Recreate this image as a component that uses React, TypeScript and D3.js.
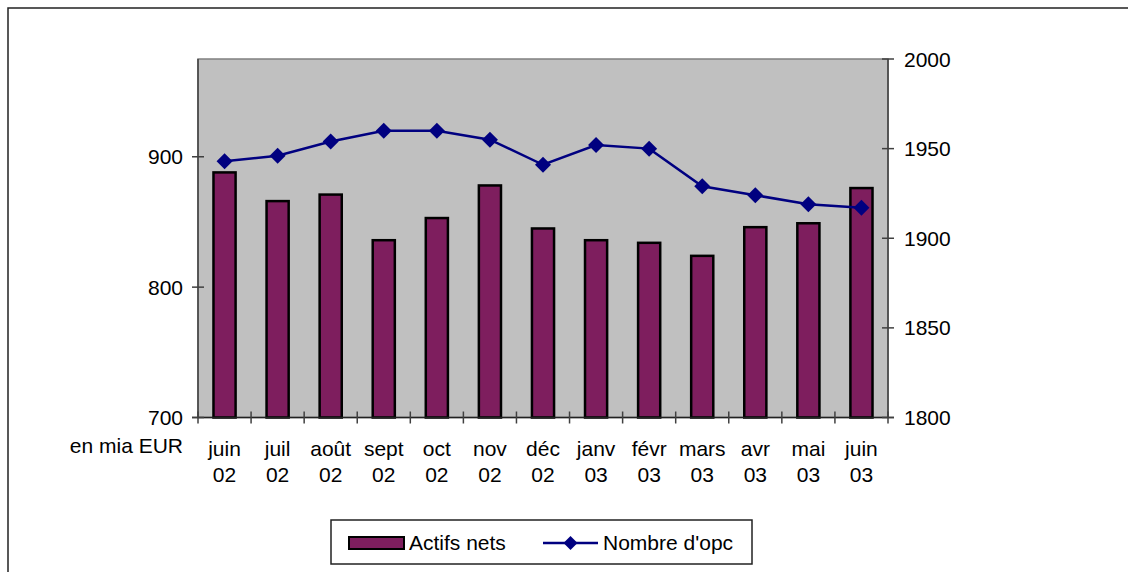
import React from "react";
import * as d3 from "d3";

const categories = ["juin 02", "juil 02", "août 02", "sept 02", "oct 02", "nov 02", "déc 02", "janv 03", "févr 03", "mars 03", "avr 03", "mai 03", "juin 03"];
const actifsNets = [888, 866, 871, 836, 853, 878, 845, 836, 834, 824, 846, 849, 876];
const nombreOpc = [1943, 1946, 1954, 1960, 1960, 1955, 1941, 1952, 1950, 1929, 1924, 1919, 1917];
const leftTicks = [700, 800, 900];
const rightTicks = [1800, 1850, 1900, 1950, 2000];
const leftDomain = [700, 975];
const rightDomain = [1800, 2000];
const unitLabel = "en mia EUR";
const seriesNames = ["Actifs nets", "Nombre d'opc"];

const W = 1128, H = 572;
const PL = 198, PR = 888, PT = 59, PB = 417.5;
const FONT = "'Liberation Sans', Arial, sans-serif";
const FS = 21;
const BAR = "#7e1e5e";
const LINE = "#000080";

export default function App() {
  const x = d3.scaleBand().domain(categories).range([PL, PR]).paddingInner(0).paddingOuter(0);
  const bw = x.bandwidth() / 2.4;
  const yL = d3.scaleLinear().domain(leftDomain).range([PB, PT]);
  const yR = d3.scaleLinear().domain(rightDomain).range([PB, PT]);
  const cx = (c: string) => (x(c) as number) + x.bandwidth() / 2;
  const line = d3.line<number>().x((_, i) => cx(categories[i])).y((d) => yR(d));
  const diamond = (px: number, py: number, r: number) =>
    `M${px},${py - r}L${px + r},${py}L${px},${py + r}L${px - r},${py}Z`;
  const boundaries = d3.range(categories.length + 1).map((i) => PL + i * x.bandwidth());

  return (
    <svg width={W} height={H} style={{ position: "absolute", left: 0, top: 0, background: "#fff" }} fontFamily={FONT}>
      <rect x={8} y={8} width={W + 10} height={H + 10} fill="#fff" stroke="#222" strokeWidth={1.5} />
      <rect x={PL} y={PT} width={PR - PL} height={PB - PT} fill="#c0c0c0" stroke="#808080" strokeWidth={1.5} />
      {categories.map((c, i) => (
        <rect key={c} x={cx(c) - bw / 2} y={yL(actifsNets[i])} width={bw} height={PB - yL(actifsNets[i])}
          fill={BAR} stroke="#000" strokeWidth={2.5} />
      ))}
      {/* axes */}
      <line x1={PL} y1={PT} x2={PL} y2={PB} stroke="#404040" strokeWidth={1.5} />
      <line x1={PR} y1={PT} x2={PR} y2={PB} stroke="#404040" strokeWidth={1.5} />
      <line x1={PL - 6} y1={PB} x2={PR + 6} y2={PB} stroke="#222" strokeWidth={1.5} />
      {leftTicks.map((t) => (
        <g key={t}>
          <line x1={PL - 6} x2={PL + 6} y1={yL(t)} y2={yL(t)} stroke="#404040" strokeWidth={1.5} />
          <text x={183} y={yL(t)} dy="0.36em" textAnchor="end" fontSize={FS} fill="#000">{t}</text>
        </g>
      ))}
      {rightTicks.map((t) => (
        <g key={t}>
          <line x1={PR - 6} x2={PR + 6} y1={yR(t)} y2={yR(t)} stroke="#404040" strokeWidth={1.5} />
          <text x={904} y={yR(t)} dy="0.36em" textAnchor="start" fontSize={FS} fill="#000">{t}</text>
        </g>
      ))}
      {boundaries.map((bx, i) => (
        <line key={i} x1={bx} x2={bx} y1={PB - 6} y2={PB + 6} stroke="#404040" strokeWidth={1.5} />
      ))}
      {categories.map((c) => {
        const [a, b] = c.split(" ");
        return (
          <text key={c} x={cx(c)} y={456} textAnchor="middle" fontSize={FS} fill="#000">
            <tspan x={cx(c)}>{a}</tspan>
            <tspan x={cx(c)} dy={26}>{b}</tspan>
          </text>
        );
      })}
      <text x={183} y={453} textAnchor="end" fontSize={FS} fill="#000">{unitLabel}</text>
      {/* line series */}
      <path d={line(nombreOpc) as string} fill="none" stroke={LINE} strokeWidth={2.5} />
      {nombreOpc.map((v, i) => (
        <path key={i} d={diamond(cx(categories[i]), yR(v), 8)} fill={LINE} />
      ))}
      {/* legend */}
      <rect x={331} y={520} width={421} height={44} fill="#fff" stroke="#222" strokeWidth={1.5} />
      <rect x={349} y={537} width={55} height={12} fill={BAR} stroke="#000" strokeWidth={2} />
      <text x={409} y={549.5} fontSize={FS} fill="#000">{seriesNames[0]}</text>
      <line x1={543} x2={598} y1={543} y2={543} stroke={LINE} strokeWidth={2.5} />
      <path d={diamond(570.5, 543, 7)} fill={LINE} />
      <text x={603} y={549.5} fontSize={FS} fill="#000">{seriesNames[1]}</text>
    </svg>
  );
}
